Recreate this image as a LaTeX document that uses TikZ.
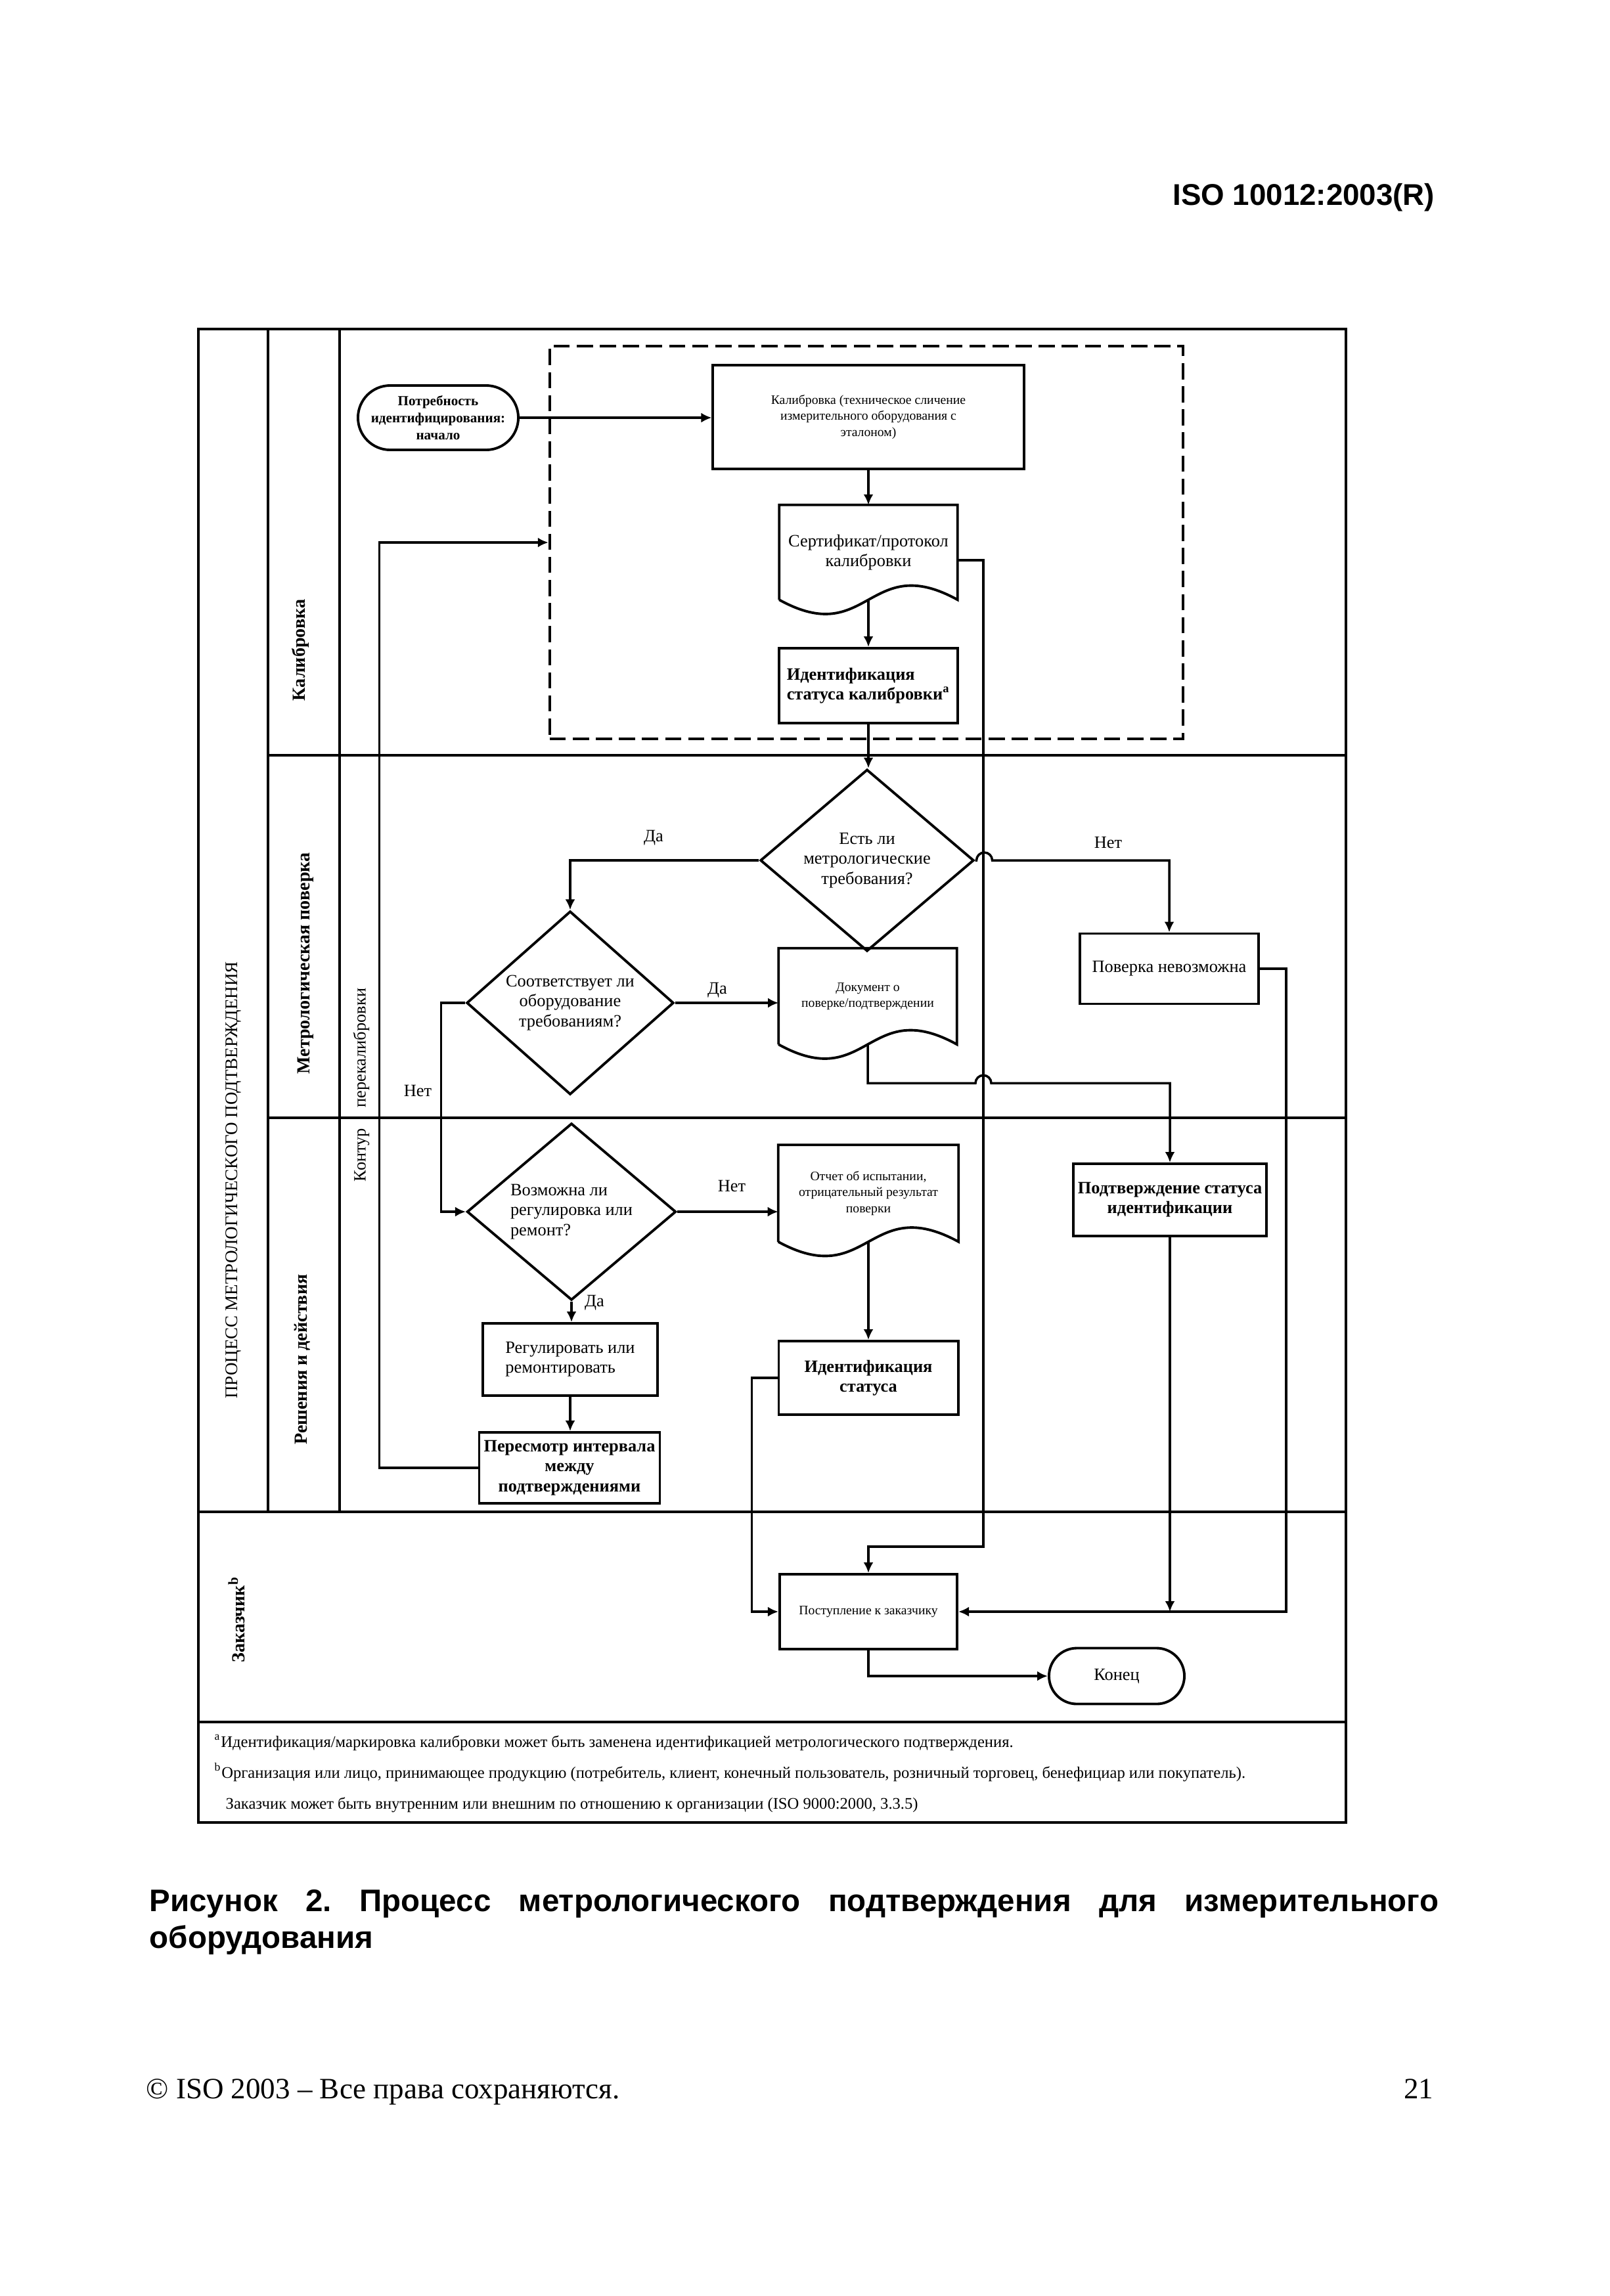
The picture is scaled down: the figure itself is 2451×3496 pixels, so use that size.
\documentclass[tikz,border=0pt]{standalone}
\usepackage{fontspec}
\setmainfont{Liberation Serif}
\newfontfamily\hdrfont{Liberation Sans}
\usetikzlibrary{shapes.geometric,shapes.misc,arrows.meta,calc}
\frenchspacing
\newcommand{\fsz}[2]{\fontsize{#1}{#2}\selectfont}
\newcommand{\docshape}[1]{\draw[line width=1.1pt] (#1.south west) -- (#1.north west) -- (#1.north east) -- (#1.south east) .. controls ($(#1.south)+(0,-75)$) and ($(#1.south)+(0,75)$) .. (#1.south west);}
\begin{document}
\begin{tikzpicture}[x=0.01cm,y=-0.01cm,
 every node/.style={inner sep=0pt},
 frm/.style={line width=1.3pt},
 box/.style={draw, rectangle, line width=1.1pt, align=center, inner sep=2pt, font=\fsz{7.5}{8.6}},
 boxb/.style={box, font=\bfseries\fsz{7.5}{8.6}},
 smallbox/.style={box, font=\fsz{5.6}{7}},
 docbox/.style={rectangle, draw=none, align=center, inner sep=2pt},
 dec/.style={diamond, draw, line width=1.1pt, align=center, inner sep=0pt, font=\fsz{7.5}{8.6}},
 term/.style={rounded rectangle, rounded rectangle arc length=180, draw, line width=1.1pt, align=center, inner sep=1pt},
 conn/.style={line width=1pt},
 arr/.style={conn, -{Latex[length=1.6mm,width=1.5mm]}},
 lane/.style={rotate=90, font=\bfseries\fsz{8}{9}},
 lbl/.style={font=\fsz{7.5}{8.6}},
 fnote/.style={anchor=base west, font=\fsz{7}{8}},
]
\path[fill=white] (0,0) rectangle (2451,3496);
\useasboundingbox (0,0) rectangle (2451,3496);

% frame and lanes
\draw[frm] (302,501) rectangle (2049,2775);
\draw[frm] (408,501) -- (408,2302);
\draw[frm] (517,501) -- (517,2302);
\draw[frm] (408,1150) -- (2049,1150);
\draw[frm] (408,1702) -- (2049,1702);
\draw[frm] (302,2302) -- (2049,2302);
\draw[frm] (302,2622) -- (2049,2622);

% lane labels
\node[rotate=90, font=\fsz{7.7}{9}] (ltitle) at (355,1797) {ПРОЦЕСС МЕТРОЛОГИЧЕСКОГО ПОДТВЕРЖДЕНИЯ};
\node[lane] (lcal) at (457,990) {Калибровка};
\node[lane] (lmet) at (465,1467) {Метрологическая поверка};
\node[lane] (lres) at (460,2070) {Решения и действия};
\node[lane] (lcust) at (360,2466) {Заказчик\textsuperscript{b}};
\node[rotate=90, font=\fsz{7.5}{9}] (lloop) at (550,1652) {Контур\hspace{1.2em}перекалибровки};

% calibration zone
\node[draw, line width=1.1pt, dash pattern=on 7pt off 3pt, minimum width=9.64cm, minimum height=5.98cm] (calzone) at (1319,826) {};

% nodes
\node[term, font=\bfseries\fsz{6}{7.4}, minimum width=2.51cm, minimum height=0.98cm] (start) at (667,636) {Потребность\\идентифицирования:\\начало};
\node[smallbox, minimum width=4.73cm, minimum height=1.58cm] (calbox) at (1322,635) {Калибровка (техническое сличение\\измерительного оборудования с\\эталоном)};
\node[docbox, font=\fsz{7.5}{8.6}, minimum width=2.70cm, minimum height=1.43cm] (cert) at (1322,841) {Сертификат/протокол\\калибровки};
\node[boxb, align=left, minimum width=2.72cm, minimum height=1.14cm] (identcal) at (1322,1044) {Идентификация\\статуса калибровки\textsuperscript{a}};
\node[dec, minimum width=3.25cm, minimum height=2.48cm] (dec1) at (1320,1310) {Есть ли\\метрологические\\требования?};
\node[dec, minimum width=3.15cm, minimum height=2.43cm] (dec2) at (868,1527) {Соответствует ли\\оборудование\\требованиям?};
\node[box, minimum width=2.72cm, minimum height=1.07cm] (nover) at (1780,1475) {Поверка невозможна};
\node[docbox, font=\fsz{5.6}{7}, minimum width=2.70cm, minimum height=1.45cm] (docok) at (1321,1517) {Документ о\\поверке/подтверждении};
\node[boxb, minimum width=2.73cm, minimum height=1.10cm] (confirm) at (1781,1827) {Подтверждение статуса\\идентификации};
\node[dec, align=left, minimum width=3.18cm, minimum height=2.44cm] (dec3) at (870,1845) {Возможна ли\\регулировка или\\ремонт?};
\node[docbox, font=\fsz{5.6}{7}, minimum width=2.73cm, minimum height=1.46cm] (report) at (1322,1817) {Отчет об испытании,\\отрицательный результат\\поверки};
\node[boxb, minimum width=2.73cm, minimum height=1.12cm] (ident2) at (1322,2098) {Идентификация\\статуса};
\node[box, align=left, minimum width=2.66cm, minimum height=1.10cm] (adjust) at (868,2070) {Регулировать или\\ремонтировать};
\node[boxb, minimum width=2.66cm, minimum height=1.08cm] (review) at (867,2235) {Пересмотр интервала\\между\\подтверждениями};
\node[smallbox, minimum width=2.70cm, minimum height=1.14cm] (deliver) at (1322,2454) {Поступление к заказчику};
\node[term, font=\fsz{7.5}{8.6}, minimum width=2.13cm, minimum height=0.85cm] (finish) at (1700,2552) {Конец};

\docshape{cert}
\docshape{docok}
\docshape{report}

% connectors
\draw[arr] (start.east) -- (start.east -| calbox.west);
\draw[arr] (calbox.south) -- (cert.north);
\draw[arr] (cert.south) -- (identcal.north);
\draw[arr] (identcal.south) -- (identcal.south |- dec1.north);
\draw[arr] (dec1.west) -| (dec2.north);
\draw[arr] (dec1.east) -- ++(2,0) arc (180:0:0.12cm) -| (nover.north);
\coordinate (certdrop) at (1497,2355);
\draw[arr] ($(cert.east)+(0,12)$) -| (certdrop) -| (deliver.north);
\draw[arr] (dec2.east) -- (dec2.east -| docok.west);
\draw[arr] (docok.south) -- ++(0,59) -- ++(164,0) arc (180:0:0.12cm) -| (confirm.north);
\draw[arr] (dec2.west) -- ++(-37,0) |- (dec3.west);
\draw[arr] (dec3.east) -- (dec3.east -| report.west);
\draw[arr] (report.south) -- (ident2.north);
\draw[arr] (ident2.west) -- ++(-39,0) |- (deliver.west);
\draw[arr] (dec3.south) -- (dec3.south |- adjust.north);
\draw[arr] (adjust.south) -- (adjust.south |- review.north);
\draw[arr] (review.west) -- ++(-150,0) |- (calzone.west);
\draw[arr] (nover.east) -- ++(40,0) |- (deliver.east);
\draw[arr] (confirm.south) -- (confirm.south |- deliver.east);
\draw[arr] (deliver.south) |- (finish.west);

% connector labels
\node[lbl] (da1) at (995,1276) {Да};
\node[lbl] (net1) at (1687,1283) {Нет};
\node[lbl] (da2) at (1092,1508) {Да};
\node[lbl] (net2) at (636,1661) {Нет};
\node[lbl] (net3) at (1114,1806) {Нет};
\node[lbl] (da3) at (905,1984) {Да};

% footnotes
\node[fnote] (fa) at (326,2660) {\textsuperscript{a}Идентификация/маркировка калибровки может быть заменена идентификацией метрологического подтверждения.};
\node[fnote] (fb) at (326,2707) {\textsuperscript{b}Организация или лицо, принимающее продукцию (потребитель, клиент, конечный пользователь, розничный торговец, бенефициар или покупатель).};
\node[fnote] (fc) at (343,2754) {Заказчик может быть внутренним или внешним по отношению к организации (ISO 9000:2000, 3.3.5)};

% page texts
\node[anchor=base east, font=\hdrfont\bfseries\fsz{13}{16}] (hdr) at (2185,312) {ISO 10012:2003(R)};
\node[anchor=base west, font=\hdrfont\bfseries\fsz{13.5}{16}] (cap) at (227,2910) {\parbox[t]{19.61cm}{\frenchspacing Рисунок 2. Процесс метрологического подтверждения для измерительного\linebreak оборудования}};
\node[anchor=base west, font=\fsz{12.8}{15}] (foot) at (222,3195) {© ISO 2003 – Все права сохраняются.};
\node[anchor=base east, font=\fsz{12.8}{15}] (pnum) at (2183,3195) {21};
\end{tikzpicture}
\end{document}
